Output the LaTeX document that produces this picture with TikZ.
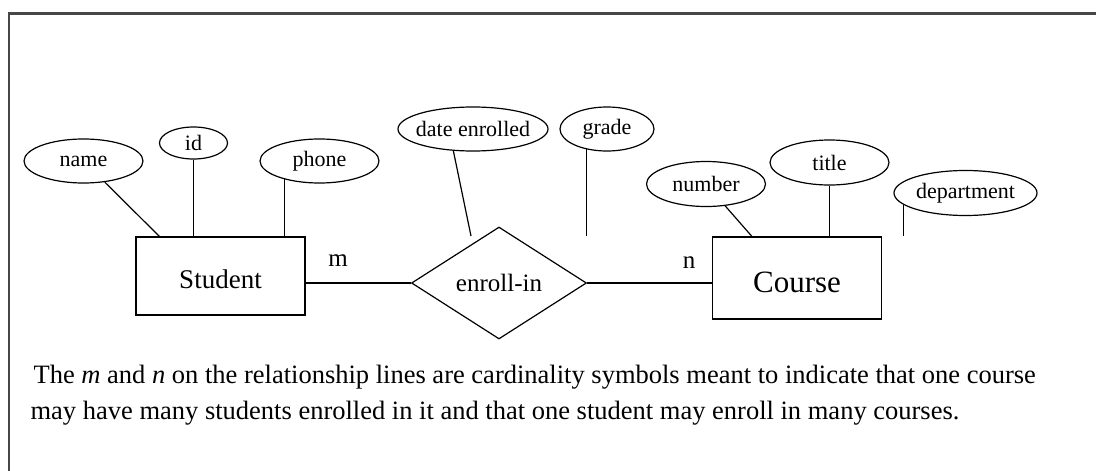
\documentclass[tikz,border=0pt]{standalone}
\usepackage{fontspec}
\setmainfont{Liberation Serif}
\usetikzlibrary{shapes.geometric}
\begin{document}
\begin{tikzpicture}[x=1pt,y=-1pt,line width=1.2pt,
  attr/.style={ellipse,draw,inner xsep=-15pt,inner ysep=0pt,font=\fontsize{22}{24}\selectfont},
  ent/.style={rectangle,draw,inner sep=0pt,text depth=0pt},
  rel/.style={diamond,draw,inner sep=0pt,minimum width=175pt,minimum height=112pt,font=\fontsize{25}{27}\selectfont},
  card/.style={inner sep=0pt,font=\fontsize{25}{27}\selectfont},
  body/.style={inner sep=0pt,anchor=base west,font=\fontsize{26.5}{30}\selectfont},
  frame/.style={line width=2.5pt,draw=black!72}]
\useasboundingbox (0,0) rectangle (1096,471);
\fill[white] (0,0) rectangle (1096,471);
\draw[frame] (9,490) -- (9,13.3) -- (1110,13.3);

% attributes
\node[attr,minimum width=119pt,minimum height=44pt] (name) at (83.5,161) {name};
\node[attr,minimum width=68pt,minimum height=32pt] (id) at (193.5,143) {id};
\node[attr,minimum width=119pt,minimum height=44pt] (phone) at (319.5,161) {phone};
\node[attr,minimum width=150pt,minimum height=44pt] (date) at (473,129) {date enrolled};
\node[attr,minimum width=94pt,minimum height=44pt] (grade) at (607,129) {grade};
\node[attr,minimum width=119pt,minimum height=45pt] (number) at (706,184) {number};
\node[attr,minimum width=119pt,minimum height=45pt] (title) at (829.5,162.5) {title};
\node[attr,minimum width=143pt,minimum height=45pt] (dept) at (965.5,193) {department};

% entities and relationship
\node[ent,minimum width=169pt,minimum height=78pt,text height=25.5pt,font=\fontsize{27}{29}\selectfont] (student) at (220.5,276) {Student};
\node[ent,minimum width=169pt,minimum height=82pt,text height=29pt,font=\fontsize{31}{33}\selectfont] (course) at (797,278) {Course};
\node[rel] (enroll) at (499,283) {enroll-in};

% relationship lines
\draw (enroll.west) -- (enroll.west -| student.east);
\draw (enroll.east) -- (enroll.east -| course.west);

% attribute lines
\coordinate (sA) at ([xshift=24pt]student.north west);
\draw (name) -- (sA);
\draw (id) -- (id |- student.north);
\draw (phone.208) -- (phone.208 |- student.north);
\coordinate (dEnd) at (471,236);
\draw (date.228) -- (dEnd);
\coordinate (gEnd) at (587,236);
\draw (grade.225) -- (grade.225 |- gEnd);
\coordinate (cA) at ([xshift=40pt]course.north west);
\draw (number) -- (cA);
\draw (title) -- (title |- course.north);
\coordinate (cEnd) at (905,236);
\draw (dept.191) -- (dept.191 |- cEnd);

% cardinalities
\node[card] (m) at (338,261) {m};
\node[card] (n) at (689,263) {n};

% caption
\node[body] (t1) at (33,383) {The \textit{m} and \textit{n} on the relationship lines are cardinality symbols meant to indicate that one course};
\node[body] (t2) at (30,419) {may have many students enrolled in it and that one student may enroll in many courses.};
\end{tikzpicture}
\end{document}
